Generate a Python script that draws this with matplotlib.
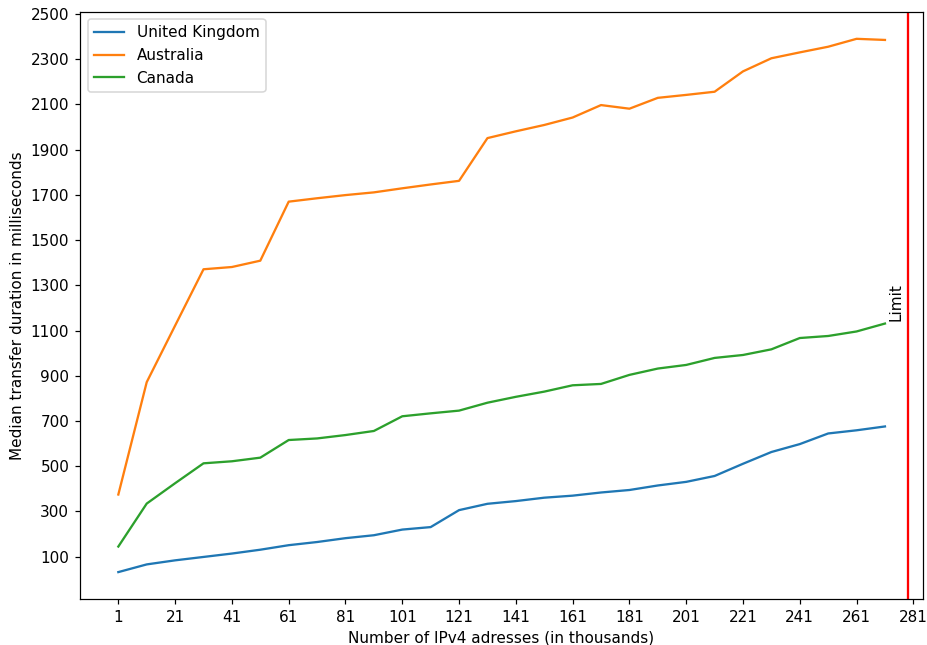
import matplotlib

matplotlib.use("Agg")
from matplotlib import pyplot as plt

# thousands of IPv4 addresses
addresses = list(range(1, 281, 10))

uk = [32, 66, 84, 99, 114, 131, 151, 165, 182, 195, 220, 231, 306, 334, 346,
      361, 370, 384, 395, 415, 431, 457, 511, 563, 598, 645, 659, 676]
australia = [375, 872, 1122, 1371, 1381, 1409, 1670, 1685, 1699, 1711, 1729, 1746,
             1762, 1951, 1981, 2009, 2042, 2097, 2081, 2129, 2142, 2156, 2246, 2304,
             2330, 2355, 2390, 2385]
canada = [145, 335, 425, 513, 522, 538, 616, 623, 638, 656, 721, 734, 746, 781,
          807, 830, 858, 864, 904, 932, 948, 979, 992, 1017, 1067, 1076, 1096, 1131]

limit = 279
x_ticks = list(range(1, 282, 20))
y_ticks = list(range(100, 2501, 200))

dpi = 110
fig, ax = plt.subplots(figsize=(927 / dpi, 645 / dpi), dpi=dpi)
fig.subplots_adjust(left=0.0863, right=0.9957, bottom=0.0713, top=0.9819)

ax.plot(addresses, uk, label="United Kingdom")
ax.plot(addresses, australia, label="Australia")
ax.plot(addresses, canada, label="Canada")
ax.axvline(limit, color="red", linewidth=1.5)
ax.text(limit - 4, 1226, "Limit", rotation=90, ha="center", va="center", fontsize=10)

ax.set_xlim(-12.5, 284.4)
ax.set_ylim(-87, 2510)
ax.set_xticks(x_ticks)
ax.set_yticks(y_ticks)
ax.set_xlabel("Number of IPv4 adresses (in thousands)")
ax.set_ylabel("Median transfer duration in milliseconds")
ax.legend(loc="upper left")

fig.savefig("out.png", dpi=dpi)
